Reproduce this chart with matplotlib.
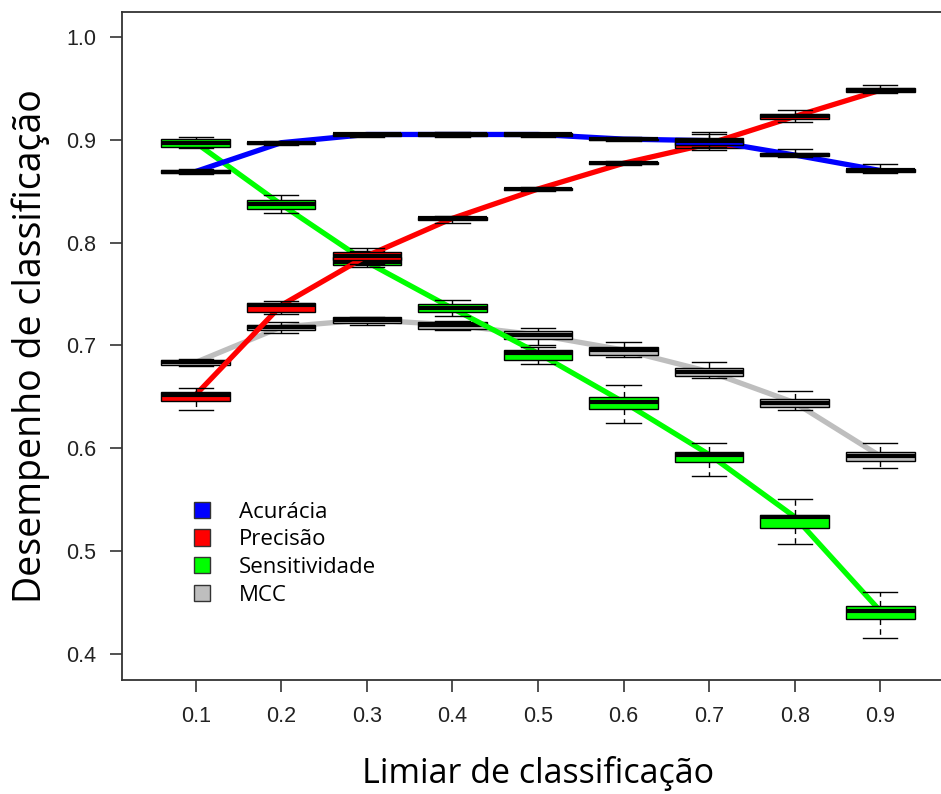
import numpy as np
import matplotlib.pyplot as plt
from matplotlib.patches import Patch

limiares = ['0.1', '0.2', '0.3', '0.4', '0.5', '0.6', '0.7', '0.8', '0.9']

# Acurácia
acc_med = [0.869, 0.897, 0.905, 0.905, 0.905, 0.9005, 0.899, 0.885, 0.870]
acc_q1 = [0.868, 0.896, 0.904, 0.904, 0.904, 0.8995, 0.895, 0.884, 0.869]
acc_q3 = [0.870, 0.898, 0.906, 0.906, 0.906, 0.901, 0.902, 0.887, 0.871]
acc_lo = [0.867, 0.895, 0.903, 0.903, 0.903, 0.899, 0.893, 0.883, 0.868]
acc_hi = [0.871, 0.899, 0.906, 0.907, 0.906, 0.903, 0.907, 0.891, 0.876]

# Precisão
pre_med = [0.652, 0.739, 0.787, 0.8235, 0.852, 0.877, 0.896, 0.9225, 0.948]
pre_q1 = [0.646, 0.733, 0.783, 0.822, 0.851, 0.876, 0.892, 0.920, 0.946]
pre_q3 = [0.655, 0.741, 0.791, 0.825, 0.853, 0.878, 0.899, 0.925, 0.950]
pre_lo = [0.637, 0.731, 0.779, 0.819, 0.850, 0.875, 0.890, 0.917, 0.945]
pre_hi = [0.659, 0.743, 0.795, 0.826, 0.854, 0.879, 0.905, 0.929, 0.953]

# Sensitividade
sen_med = [0.897, 0.837, 0.781, 0.736, 0.6925, 0.645, 0.594, 0.5335, 0.442]
sen_q1 = [0.893, 0.8325, 0.778, 0.7326, 0.686, 0.638, 0.587, 0.523, 0.434]
sen_q3 = [0.9005, 0.841, 0.786, 0.740, 0.6956, 0.6496, 0.5967, 0.5355, 0.447]
sen_lo = [0.892, 0.8286, 0.776, 0.7287, 0.682, 0.6243, 0.5731, 0.507, 0.4162]
sen_hi = [0.903, 0.846, 0.792, 0.7442, 0.699, 0.6616, 0.6049, 0.5504, 0.4606]

# MCC
mcc_med = [0.6836, 0.718, 0.725, 0.720, 0.7102, 0.6956, 0.6745, 0.6444, 0.5925]
mcc_q1 = [0.681, 0.7151, 0.7222, 0.7163, 0.706, 0.6907, 0.6703, 0.640, 0.588]
mcc_q3 = [0.686, 0.7199, 0.7274, 0.7228, 0.7144, 0.6988, 0.6778, 0.648, 0.5967]
mcc_lo = [0.680, 0.7125, 0.720, 0.715, 0.7005, 0.689, 0.668, 0.637, 0.581]
mcc_hi = [0.687, 0.7232, 0.728, 0.724, 0.7173, 0.7037, 0.6843, 0.656, 0.605]

metricas = [
    ('MCC', '#BEBEBE', mcc_med, mcc_q1, mcc_q3, mcc_lo, mcc_hi),
    ('Sensitividade', '#00FF00', sen_med, sen_q1, sen_q3, sen_lo, sen_hi),
    ('Precisão', '#FF0000', pre_med, pre_q1, pre_q3, pre_lo, pre_hi),
    ('Acurácia', '#0000FF', acc_med, acc_q1, acc_q3, acc_lo, acc_hi),
]

fig = plt.figure(figsize=(9.41, 7.94), dpi=100)
ax = fig.add_axes([0.1297, 0.1436, 0.884, 0.8413])
pos = np.arange(1, len(limiares) + 1)

# linha das medianas por baixo, boxplot por cima, uma métrica de cada vez
z = 2
for nome, cor, med, q1, q3, lo, hi in metricas:
    ax.plot(pos, med, color=cor, lw=3.8, zorder=z, solid_capstyle='butt')
    stats = [dict(med=m, q1=a, q3=b, whislo=l, whishi=h, fliers=[])
             for m, a, b, l, h in zip(med, q1, q3, lo, hi)]
    ax.bxp(stats, positions=pos, widths=0.8, patch_artist=True,
           showfliers=False, manage_ticks=False, zorder=z + 1,
           boxprops=dict(facecolor=cor, edgecolor='black', lw=1.0),
           medianprops=dict(color='black', lw=3.0),
           whiskerprops=dict(color='black', lw=1.0, ls=(0, (4, 3))),
           capprops=dict(color='black', lw=1.0), capwidths=0.4)
    z += 2

ax.set_xlim(0.14, 9.86)
ax.set_ylim(0.375, 1.024)
ax.set_xticks(pos)
ax.set_xticklabels(limiares)
ax.set_yticks([0.4, 0.5, 0.6, 0.7, 0.8, 0.9, 1.0])
ax.set_yticklabels(['0.4', '0.5', '0.6', '0.7', '0.8', '0.9', '1.0'])
ax.tick_params(length=8.5, width=1.2, color='#333333', labelsize=15.5,
               labelcolor='#222222', pad=10)
for lab in ax.get_xticklabels() + ax.get_yticklabels():
    lab.set_family('Liberation Sans')
for s in ['left', 'bottom', 'top', 'right']:
    ax.spines[s].set_color('#333333')
    ax.spines[s].set_linewidth(1.3)

ax.set_xlabel('Limiar de classificação', fontsize=24.5, family='Open Sans',
              labelpad=21)
ax.set_ylabel('Desempenho de classificação', fontsize=27, family='Open Sans',
              labelpad=12)

handles = [Patch(facecolor=c, edgecolor='#333333', lw=1.0)
           for c in ['#0000FF', '#FF0000', '#00FF00', '#BEBEBE']]
ax.legend(handles, ['Acurácia', 'Precisão', 'Sensitividade', 'MCC'],
          loc='upper left', bbox_to_anchor=(0.07, 0.287), frameon=False,
          handlelength=0.75, handleheight=0.75, handletextpad=1.3,
          labelspacing=0.3, borderaxespad=0.2,
          prop=dict(family='Open Sans', size=16))

fig.savefig('out.png', dpi=100)
